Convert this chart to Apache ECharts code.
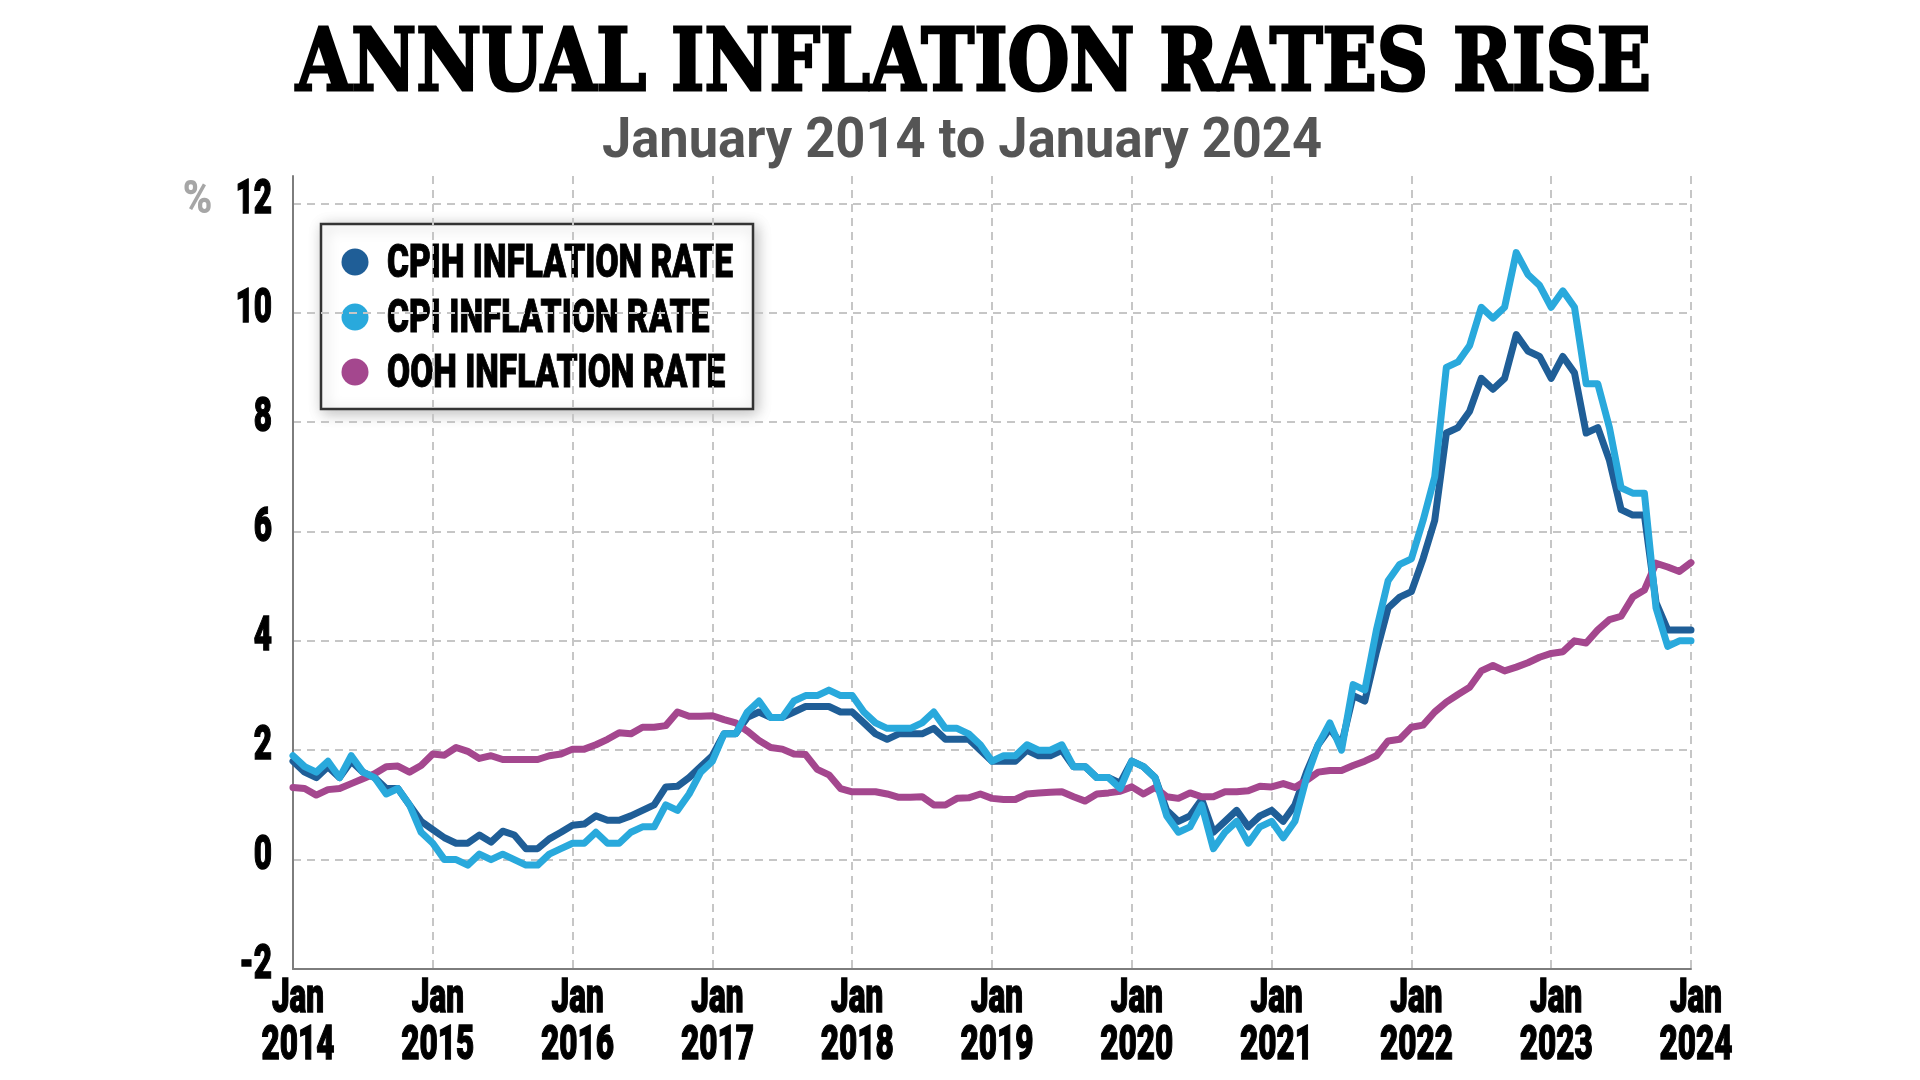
<!DOCTYPE html>
<html>
<head>
<meta charset="utf-8">
<script src="https://cdn.jsdelivr.net/npm/echarts@6/dist/echarts.min.js"></script>
<style>html,body{margin:0;padding:0;background:#fff}#chart{width:1920px;height:1080px}</style>
</head>
<body>
<div id="chart"></div>
<script>
// ---------- DATA ----------
const TITLE = 'ANNUAL INFLATION RATES RISE';
const SUBTITLE = 'January 2014 to January 2024';
const UNIT = '%';
const years = [2014, 2015, 2016, 2017, 2018, 2019, 2020, 2021, 2022, 2023, 2024];
const monthNames = ['Jan','Feb','Mar','Apr','May','Jun','Jul','Aug','Sep','Oct','Nov','Dec'];
const yTickValues = [-2, 0, 2, 4, 6, 8, 10, 12];
const seriesNames = ['CPIH INFLATION RATE', 'CPI INFLATION RATE', 'OOH INFLATION RATE'];

const cpih = [
  1.8, 1.6, 1.5, 1.7, 1.5, 1.8, 1.6, 1.5, 1.3, 1.3, 1.0, 0.7,
  0.55, 0.4, 0.3, 0.3, 0.45, 0.32, 0.52, 0.45, 0.2, 0.2, 0.38, 0.5,
  0.63, 0.65, 0.8, 0.72, 0.72, 0.8, 0.9, 1.0, 1.33, 1.34, 1.5, 1.7,
  1.9, 2.3, 2.3, 2.6, 2.7, 2.6, 2.6, 2.7, 2.8, 2.8, 2.8, 2.7,
  2.7, 2.5, 2.3, 2.2, 2.3, 2.3, 2.3, 2.4, 2.2, 2.2, 2.2, 2.0,
  1.8, 1.8, 1.8, 2.0, 1.9, 1.9, 2.0, 1.7, 1.7, 1.5, 1.5, 1.4,
  1.8, 1.7, 1.5, 0.9, 0.7, 0.8, 1.1, 0.5, 0.7, 0.9, 0.6, 0.8,
  0.9, 0.7, 1.0, 1.6, 2.1, 2.4, 2.1, 3.0, 2.9, 3.8, 4.6, 4.8,
  4.9, 5.5, 6.2, 7.8, 7.9, 8.2, 8.8, 8.6, 8.8, 9.6, 9.3, 9.2,
  8.8, 9.2, 8.9, 7.8, 7.9, 7.3, 6.4, 6.3, 6.3, 4.7, 4.2, 4.2,
  4.2
];
const cpi = [
  1.9, 1.7, 1.6, 1.8, 1.5, 1.9, 1.6, 1.5, 1.2, 1.3, 1.0, 0.5,
  0.3, 0.0, 0.0, -0.1, 0.1, 0.0, 0.1, 0.0, -0.1, -0.1, 0.1, 0.2,
  0.3, 0.3, 0.5, 0.3, 0.3, 0.5, 0.6, 0.6, 1.0, 0.9, 1.2, 1.6,
  1.8, 2.3, 2.3, 2.7, 2.9, 2.6, 2.6, 2.9, 3.0, 3.0, 3.1, 3.0,
  3.0, 2.7, 2.5, 2.4, 2.4, 2.4, 2.5, 2.7, 2.4, 2.4, 2.3, 2.1,
  1.8, 1.9, 1.9, 2.1, 2.0, 2.0, 2.1, 1.7, 1.7, 1.5, 1.5, 1.3,
  1.8, 1.7, 1.5, 0.8, 0.5, 0.6, 1.0, 0.2, 0.5, 0.7, 0.3, 0.6,
  0.7, 0.4, 0.7, 1.5, 2.1, 2.5, 2.0, 3.2, 3.1, 4.2, 5.1, 5.4,
  5.5, 6.2, 7.0, 9.0, 9.1, 9.4, 10.1, 9.9, 10.1, 11.1, 10.7, 10.5,
  10.1, 10.4, 10.1, 8.7, 8.7, 7.9, 6.8, 6.7, 6.7, 4.6, 3.9, 4.0,
  4.0
];
const ooh = [
  1.32, 1.3, 1.18, 1.28, 1.3, 1.39, 1.48, 1.57, 1.7, 1.71, 1.6, 1.72,
  1.93, 1.91, 2.05, 1.98, 1.85, 1.9, 1.83, 1.83, 1.83, 1.83, 1.9, 1.93,
  2.02, 2.02, 2.1, 2.2, 2.32, 2.3, 2.42, 2.42, 2.45, 2.7, 2.62, 2.62,
  2.63, 2.56, 2.5, 2.35, 2.18, 2.05, 2.02, 1.93, 1.92, 1.65, 1.55, 1.3,
  1.24, 1.24, 1.24, 1.2, 1.14, 1.14, 1.15, 1.0, 1.0, 1.12, 1.13, 1.2,
  1.12, 1.1, 1.1, 1.2, 1.22, 1.23, 1.24, 1.15, 1.07, 1.2, 1.22, 1.25,
  1.33, 1.2, 1.32, 1.15, 1.12, 1.22, 1.15, 1.15, 1.24, 1.24, 1.26, 1.34,
  1.33, 1.39, 1.32, 1.45, 1.6, 1.63, 1.63, 1.72, 1.8, 1.9, 2.17, 2.2,
  2.42, 2.46, 2.7, 2.88, 3.02, 3.15, 3.45, 3.55, 3.45, 3.52, 3.6, 3.7,
  3.77, 3.8, 4.0, 3.96, 4.2, 4.39, 4.45, 4.8, 4.93, 5.42, 5.35, 5.27,
  5.43
];

// category labels (one per month, Jan 2014 .. Jan 2024)
const categories = [];
years.forEach(y => monthNames.forEach(m => {
  if (y < years[years.length - 1] || m === 'Jan') categories.push(m + ' ' + y);
}));

// ---------- STYLE ----------
const COLORS = ['#1f5e97', '#29a9dc', '#a4478e'];
const GRID_COLOR = '#c6c6c6';
const AXIS_COLOR = '#7d7d7d';
const LABEL_FONT = "900 49px Roboto";
const LEGEND_FONT = "900 46px Roboto";
const TITLE_FONT = "bold 86px 'DejaVu Serif', 'Liberation Serif', serif";
const SUB_FONT = "bold 56px Roboto";

const _ctx = document.createElement('canvas').getContext('2d');
function textWidth(text, font) { _ctx.font = font; return _ctx.measureText(text).width; }
// horizontal condensing factors so the wide installed fonts match the condensed originals
const LABEL_SX = 73 / textWidth('2014', LABEL_FONT);
const LEGEND_SX = 346 / textWidth(seriesNames[0], LEGEND_FONT);
const TITLE_SX = 1355 / textWidth(TITLE, TITLE_FONT);
const SUB_SX = 720 / textWidth(SUBTITLE, SUB_FONT);

const chart = echarts.init(document.getElementById('chart'), null, { renderer: 'canvas', width: 1920, height: 1080 });

const lineSeries = (name, data, color, z) => ({
  name, type: 'line', data, z,
  showSymbol: false, symbol: 'none', smooth: false,
  lineStyle: { color, width: 7, cap: 'round', join: 'round' },
  itemStyle: { color },
  emphasis: { disabled: true }
});

function labelText(text, x, y, align) {
  return {
    type: 'text', x, y, scaleX: LABEL_SX, silent: true,
    style: { text, fill: '#000', stroke: '#000', lineWidth: 1.4, lineJoin: 'round', font: LABEL_FONT,
             align, textAlign: align, verticalAlign: 'middle', textVerticalAlign: 'middle' }
  };
}

// legend drawn as a graphic group (box, dots, condensed bold text)
const LG = { x: 321, y: 224, w: 432, h: 185, dotX: 355, textX: 387, rows: [262, 317, 372] };
const legendGroup = {
  type: 'group', silent: true,
  children: [
    { type: 'rect', shape: { x: LG.x, y: LG.y, width: LG.w, height: LG.h },
      style: { fill: '#fff', stroke: '#333', lineWidth: 2.5, shadowBlur: 14, shadowColor: 'rgba(0,0,0,0.25)', shadowOffsetX: 3, shadowOffsetY: 3 } }
  ].concat(seriesNames.map((n, i) => ({
    type: 'circle', shape: { cx: LG.dotX, cy: LG.rows[i], r: 13.5 }, style: { fill: COLORS[i] }
  }))).concat(seriesNames.map((n, i) => ({
    type: 'text', x: LG.textX, y: LG.rows[i] + 3, scaleX: LEGEND_SX,
    style: { text: n, fill: '#000', stroke: '#000', lineWidth: 1.0, lineJoin: 'round', font: LEGEND_FONT,
             align: 'left', textAlign: 'left', verticalAlign: 'middle', textVerticalAlign: 'middle' }
  })))
};

const option = {
  animation: false,
  backgroundColor: '#ffffff',
  graphic: [
    { type: 'text', x: 973.5, y: 68, scaleX: TITLE_SX, silent: true,
      style: { text: TITLE, font: TITLE_FONT, fill: '#000', stroke: '#000', lineWidth: 3, lineJoin: 'round',
               align: 'center', textAlign: 'center', verticalAlign: 'middle', textVerticalAlign: 'middle' } },
    { type: 'text', x: 962, y: 143, scaleX: SUB_SX, silent: true,
      style: { text: SUBTITLE, font: SUB_FONT, fill: '#555555',
               align: 'center', textAlign: 'center', verticalAlign: 'middle', textVerticalAlign: 'middle' } },
    { type: 'text', x: 197.5, y: 201, scaleX: 0.85, silent: true,
      style: { text: UNIT, font: "900 47px Roboto", fill: '#a6a6a6',
               align: 'center', textAlign: 'center', verticalAlign: 'middle', textVerticalAlign: 'middle' } },
    legendGroup
  ],
  grid: { left: 293, top: 176, width: 1398, height: 793, containLabel: false, outerBoundsMode: 'none' },
  xAxis: {
    type: 'category',
    data: categories,
    boundaryGap: false,
    axisLine: { show: true, onZero: false, lineStyle: { color: AXIS_COLOR, width: 2 } },
    axisTick: { show: false },
    axisLabel: { show: false },
    splitLine: { show: true, interval: 11, lineStyle: { color: GRID_COLOR, width: 2, type: [8, 6] } }
  },
  yAxis: {
    type: 'value',
    min: yTickValues[0], max: yTickValues[yTickValues.length - 1] + 0.5, interval: 2,
    axisLine: { show: true, lineStyle: { color: AXIS_COLOR, width: 2 } },
    axisTick: { show: false },
    axisLabel: { show: false },
    splitLine: {
      show: true, showMaxLine: false,
      lineStyle: { color: yTickValues.map(() => GRID_COLOR).concat(['rgba(0,0,0,0)']), width: 2, type: [8, 6] }
    }
  },
  series: [
    lineSeries(seriesNames[0], cpih, COLORS[0], 2),
    lineSeries(seriesNames[2], ooh, COLORS[2], 3),
    lineSeries(seriesNames[1], cpi, COLORS[1], 4),
    { // y-axis tick labels, placed through the value axis
      type: 'custom', z: 10, silent: true, clip: false,
      data: yTickValues.map(v => [0, v]),
      renderItem: (params, api) => {
        const v = api.value(1);
        const p = api.coord([api.value(0), v]);
        return labelText(String(v), p[0] - 21, p[1] - 3, 'right');
      }
    },
    { // x-axis tick labels (Jan / year), placed through the category axis
      type: 'custom', z: 10, silent: true, clip: false,
      data: years.map((y, i) => [i * 12, yTickValues[0], y]),
      renderItem: (params, api) => {
        const p = api.coord([api.value(0), api.value(1)]);
        const yr = years[params.dataIndex];
        return { type: 'group', children: [
          labelText(monthNames[0], p[0] + 5, p[1] + 31, 'center'),
          labelText(String(yr), p[0] + 5, p[1] + 78, 'center')
        ] };
      }
    }
  ]
};
chart.setOption(option);
</script>
</body>
</html>
